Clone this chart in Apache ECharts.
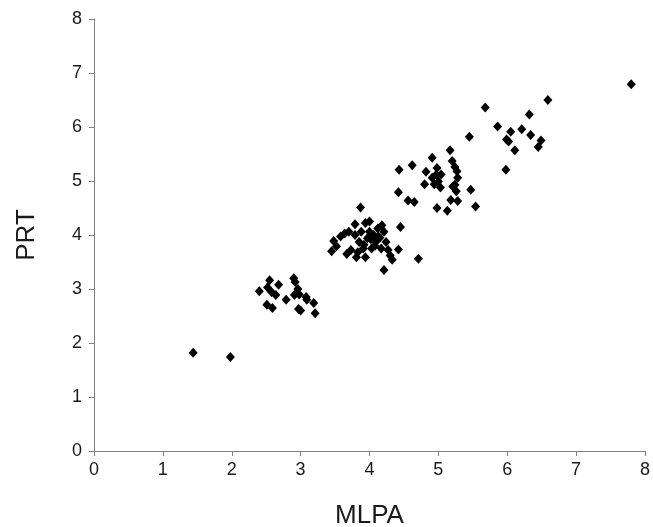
<!DOCTYPE html>
<html><head><meta charset="utf-8">
<script src="https://cdn.jsdelivr.net/npm/echarts@6/dist/echarts.min.js"></script>
<style>html,body{margin:0;padding:0;background:#fff}#c{width:653px;height:527px}</style>
</head><body><div id="c"></div>
<script>
const xTicks = [0,1,2,3,4,5,6,7,8];
const yTicks = [0,1,2,3,4,5,6,7,8];
const mlpa = [1.44,1.98,
 2.40,2.51,2.55,2.59,2.52,2.64,2.68,2.79,2.90,2.92,2.96,2.91,2.98,2.97,3.00,3.08,3.09,3.19,3.21,2.58,
 3.87,3.45,3.48,3.52,3.58,3.64,3.67,3.70,3.73,3.79,3.79,3.81,3.85,3.88,3.91,3.94,3.94,3.97,4.00,4.00,4.03,4.06,4.09,4.12,4.13,4.17,4.18,4.21,4.24,4.27,4.30,4.33,4.21,4.42,4.45,4.71,3.92,4.02,4.08,4.15,3.83,
 4.42,4.43,4.56,4.62,4.65,4.82,4.80,4.91,4.91,4.94,4.97,4.98,5.00,5.03,4.98,5.04,5.17,5.20,5.24,5.27,5.28,5.24,5.21,5.26,5.18,5.28,5.13,5.47,5.45,5.54,
 5.68,5.86,5.98,5.99,6.02,6.05,6.11,6.21,6.32,6.34,6.45,6.49,6.59,7.80];
const prt = [1.82,1.74,
 2.96,2.71,3.16,2.65,3.03,2.89,3.08,2.80,3.20,3.13,3.00,2.89,2.90,2.63,2.60,2.85,2.80,2.74,2.55,2.94,
 4.51,3.70,3.89,3.79,3.97,4.03,3.65,4.06,3.72,4.00,4.20,3.59,3.87,4.06,3.75,3.59,4.22,3.94,4.06,4.25,3.75,4.00,3.87,4.12,3.97,3.75,4.18,4.06,3.87,3.72,3.62,3.54,3.35,3.73,4.15,3.56,3.82,3.92,3.80,3.95,3.68,
 4.79,5.21,4.64,5.29,4.61,5.17,4.94,5.43,5.06,4.94,5.12,5.24,4.99,4.88,4.50,5.12,5.57,5.37,5.26,5.18,5.06,4.93,4.90,4.81,4.65,4.63,4.45,4.84,5.82,4.53,
 6.36,6.01,5.21,5.77,5.73,5.91,5.57,5.96,6.23,5.85,5.63,5.75,6.50,6.79];
const pts = mlpa.map((x,i)=>[x,prt[i]]);
const chart = echarts.init(document.getElementById('c'));
const FONT = 'Liberation Sans, Arial, sans-serif';
const axisCommon = {
  min:0,max:8,interval:1,
  axisLine:{show:true,onZero:false,lineStyle:{color:'#808080',width:1}},
  axisTick:{show:true,length:5,lineStyle:{color:'#808080'}},
  splitLine:{show:false},
  nameTextStyle:{color:'#1a1a1a',fontSize:26,fontFamily:FONT},
  nameLocation:'middle'
};
chart.setOption({
  animation:false,
  backgroundColor:'#fff',
  grid:{left:94,right:8,top:19,bottom:76,containLabel:false,outerBoundsMode:'none'},
  xAxis:Object.assign({},axisCommon,{type:'value',name:'MLPA',nameGap:52,
    axisLabel:{color:'#1a1a1a',fontSize:18,fontFamily:FONT,margin:10,formatter:v=>xTicks.includes(v)?String(v):''}}),
  yAxis:Object.assign({},axisCommon,{type:'value',name:'PRT',nameGap:54,
    axisLabel:{color:'#1a1a1a',fontSize:18,fontFamily:FONT,margin:12,formatter:v=>yTicks.includes(v)?String(v):''}}),
  series:[{type:'scatter',data:pts,symbol:'diamond',symbolSize:[9,10],itemStyle:{color:'#000',opacity:1}}]
});
</script></body></html>
